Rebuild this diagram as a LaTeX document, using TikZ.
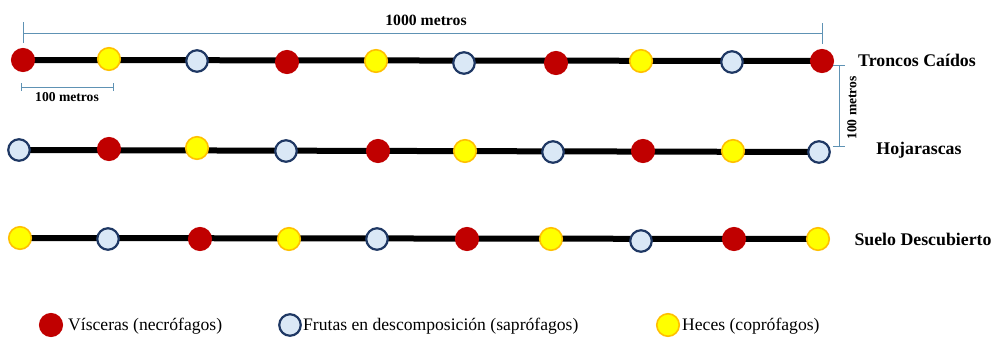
\documentclass[tikz,border=0pt]{standalone}
\usepackage{fontspec}
\setmainfont{Liberation Serif}
\usetikzlibrary{backgrounds}
\definecolor{visc}{HTML}{C00000}
\definecolor{hecf}{HTML}{FFFF00}
\definecolor{hecd}{HTML}{FFC000}
\definecolor{fruf}{HTML}{DAE8F6}
\definecolor{frud}{HTML}{1F3864}
\definecolor{dimc}{HTML}{5E92B4}
\begin{document}
\begin{tikzpicture}[x=1pt,y=-1pt,
  dot/.style={circle,minimum size=22.5pt,inner sep=0pt,line width=1.6pt},
  vis/.style={dot,fill=visc,draw=visc},
  hec/.style={dot,fill=hecf,draw=hecd},
  fru/.style={dot,fill=fruf,draw=frud,line width=2.2pt,minimum size=21.5pt},
  rowline/.style={black,line width=6pt},
  dimline/.style={dimc,line width=0.9pt},
  rowlabel/.style={font=\fontsize{17.8}{20}\selectfont\bfseries},
  dimlabel/.style={font=\fontsize{13.6}{15}\selectfont\bfseries},
  legtext/.style={font=\fontsize{17.6}{20}\selectfont,anchor=west,inner sep=0pt}]
\useasboundingbox (0,0) rectangle (995,338);
% row 1
\foreach \x/\y/\t [count=\i] in {23/60/vis,109/59/hec,197/61/fru,287/62/vis,376/61/hec,464/63/fru,556/63/vis,641/61/hec,732/62/fru,822/61/vis}
  \node[\t] (a\i) at (\x,\y) {};
% row 2
\foreach \x/\y/\t [count=\i] in {19/150/fru,109/149/vis,197/148/hec,286/151/fru,378/151/vis,465/151/hec,553/152/fru,643/151/vis,733/151/hec,819/152/fru}
  \node[\t] (b\i) at (\x,\y) {};
% row 3
\foreach \x/\y/\t [count=\i] in {20/238/hec,108/239/fru,200/239/vis,289/239/hec,377/239/fru,467/239/vis,551/239/hec,641/241/fru,734/239/vis,818/239/hec}
  \node[\t] (c\i) at (\x,\y) {};
\begin{scope}[on background layer]
  \draw[rowline] (a1.center) -- (a10.center);
  \draw[rowline] (b1.center) -- (b10.center);
  \draw[rowline] (c1.center) -- (c10.center);
\end{scope}
% row labels
\node[rowlabel] (l1) at (917,60) {Troncos Caídos};
\node[rowlabel] (l2) at (919,150) {Hojarascas};
\node[rowlabel] (l3) at (923,239) {Suelo Descubierto};
% 1000 m dimension
\coordinate (d1a) at (23,33);
\coordinate (d1b) at (822,33);
\draw[dimline] (d1a) -- (d1b);
\draw[dimline] (23,22) -- (23,43);
\draw[dimline] (822,23) -- (822,44);
\node[dimlabel,font=\fontsize{15.7}{17}\selectfont\bfseries] (t1000) at (426,20) {1000 metros};
% 100 m horizontal
\coordinate (d2a) at (21,87);
\coordinate (d2b) at (113,87);
\draw[dimline] (d2a) -- (d2b);
\draw[dimline] (21,83) -- (21,91);
\draw[dimline] (113,83) -- (113,91);
\node[dimlabel] (t100a) at (67,97) {100 metros};
% 100 m vertical
\coordinate (d3a) at (839,65);
\coordinate (d3b) at (839,146);
\draw[dimline] (d3a) -- (d3b);
\draw[dimline] (833,65) -- (845,65);
\draw[dimline] (833,146) -- (845,146);
\node[dimlabel,rotate=90] (t100b) at (852,108) {100 metros};
% legend
\node[vis] (k1) at (51,325) {};
\node[legtext] (k1t) at (68,326) {Vísceras (necrófagos)};
\node[fru] (k2) at (290,325) {};
\node[legtext] (k2t) at (303,326) {Frutas en descomposición (saprófagos)};
\node[hec] (k3) at (668,325) {};
\node[legtext] (k3t) at (682,326) {Heces (coprófagos)};
\end{tikzpicture}
\end{document}
